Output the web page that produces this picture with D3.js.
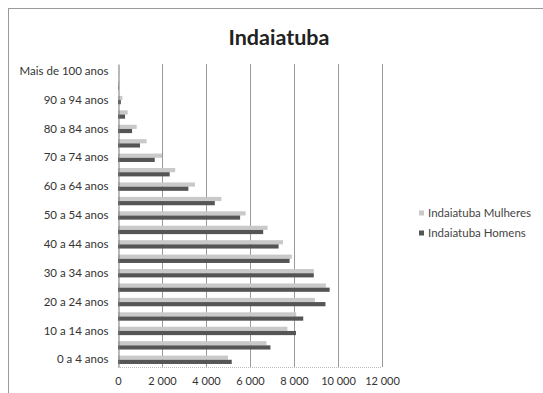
<!DOCTYPE html>
<html><head><meta charset="utf-8">
<script src="https://cdn.jsdelivr.net/npm/d3@7"></script>
<style>
html,body{margin:0;padding:0;background:#fff;}
svg{display:block;}
</style></head>
<body>
<svg id="chart" width="543" height="393"></svg>
<script>
const title = "Indaiatuba";
const categories = ["0 a 4 anos","5 a 9 anos","10 a 14 anos","15 a 19 anos","20 a 24 anos","25 a 29 anos","30 a 34 anos","35 a 39 anos","40 a 44 anos","45 a 49 anos","50 a 54 anos","55 a 59 anos","60 a 64 anos","65 a 69 anos","70 a 74 anos","75 a 79 anos","80 a 84 anos","85 a 89 anos","90 a 94 anos","95 a 99 anos","Mais de 100 anos"];
const seriesNames = ["Indaiatuba Mulheres","Indaiatuba Homens"];
const mulheres = [5000,6750,7700,8100,8950,9450,8900,7900,7500,6800,5800,4700,3500,2600,2000,1300,850,440,200,50,10];
const homens   = [5170,6930,8090,8420,9430,9620,8900,7800,7300,6600,5550,4400,3200,2350,1670,1000,640,320,130,25,5];
const xTicks = [0,2000,4000,6000,8000,10000,12000];
const colors = ["#c9c9c9","#555555"];

const svg = d3.select("#chart");
const font = "Lato, 'Open Sans', sans-serif";

// outer border
svg.append("rect").attr("x",8.5).attr("y",8.5).attr("width",545).attr("height",395)
  .attr("fill","none").attr("stroke","#9a9a9a").attr("stroke-width",1);

svg.append("text").attr("x",279).attr("y",45).attr("text-anchor","middle")
  .attr("font-family",font).attr("font-weight","bold").attr("font-size",21.5)
  .attr("fill","#222").text(title);

const x = d3.scaleLinear().domain([0,12000]).range([118,382]);
const y = d3.scaleBand().domain(categories.slice().reverse()).range([64,367]).paddingInner(0.42).paddingOuter(0.21);
const ySub = d3.scaleBand().domain([0,1]).range([0,y.bandwidth()]);

// gridlines
svg.append("g").selectAll("line").data(xTicks.slice(1)).join("line")
  .attr("x1",d=>x(d)+0.5).attr("x2",d=>x(d)+0.5).attr("y1",64).attr("y2",367)
  .attr("stroke","#999").attr("stroke-width",1);

// bottom border of plot area
svg.append("line").attr("x1",118).attr("x2",382).attr("y1",367.5).attr("y2",367.5)
  .attr("stroke","#bbb").attr("stroke-dasharray","1,1");

// bars
const data = categories.map((c,i)=>({c, v:[mulheres[i],homens[i]]}));
const g = svg.append("g");
data.forEach(d=>{
  d.v.forEach((v,k)=>{
    g.append("rect").attr("x",x(0)).attr("y",y(d.c)+ySub(k))
      .attr("width",x(v)-x(0)).attr("height",ySub.bandwidth())
      .attr("fill",colors[k]);
  });
});

// y axis
const yAxis = d3.axisLeft(y).tickSize(0).tickPadding(10)
  .tickFormat((d,i)=>{ const idx = categories.indexOf(d); return idx%2===0 ? d : ""; });
const ya = svg.append("g").attr("transform","translate(118.5,0)").call(yAxis);
ya.select(".domain").attr("stroke","#777");
ya.selectAll("text").attr("font-family",font).attr("font-size",11.5).attr("fill","#333");

// x axis
const xAxis = d3.axisBottom(x).tickValues(xTicks).tickSize(0).tickPadding(10)
  .tickFormat(d=> d3.format(",")(d).replace(/,/g," "));
const xa = svg.append("g").attr("transform","translate(0,367)").call(xAxis);
xa.select(".domain").remove();
xa.selectAll("text").attr("font-family",font).attr("font-size",11).attr("fill","#333");

// legend
const leg = svg.append("g");
seriesNames.forEach((s,k)=>{
  const ly = 213 + k*20;
  leg.append("rect").attr("x",419).attr("y",ly-2.5).attr("width",5).attr("height",5).attr("fill",colors[k]);
  leg.append("text").attr("x",428).attr("y",ly+4).attr("font-family",font).attr("font-size",11.5)
    .attr("fill","#444").text(s);
});
</script>
</body></html>
